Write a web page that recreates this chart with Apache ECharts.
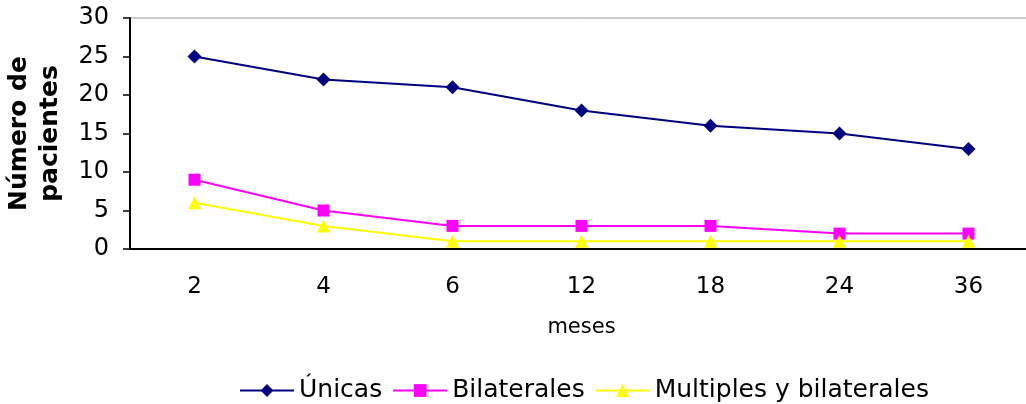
<!DOCTYPE html>
<html>
<head>
<meta charset="utf-8">
<script src="https://cdn.jsdelivr.net/npm/echarts@6/dist/echarts.min.js"></script>
<style>
	html, body { margin: 0; padding: 0; background: #fff; }
	#chart { width: 1026px; height: 404px; }
</style>
</head>
<body>
<div id="chart"></div>
<script type="text/javascript">
	// datos
	var meses = ['2', '4', '6', '12', '18', '24', '36'];
	var unicas = [25, 22, 21, 18, 16, 15, 13];
	var bilaterales = [9, 5, 3, 3, 3, 2, 2];
	var multiples = [6, 3, 1, 1, 1, 1, 1];
	var yTicks = [0, 5, 10, 15, 20, 25, 30];

	var fuente = 'DejaVu Sans';
	var myChart = echarts.init(document.getElementById('chart'));
	var option = {
		backgroundColor: '#fff',
		animation: false,
		grid: {
			left: 130,
			top: 18,
			width: 903,
			height: 231,
			outerBoundsMode: 'none',
			containLabel: false,
			show: true,
			borderColor: '#999',
			borderWidth: 1
		},
		legend: {
			left: 234,
			top: 373,
			itemWidth: 54,
			itemHeight: 16,
			itemGap: 10,
			textStyle: { fontFamily: fuente, fontSize: 25, color: '#000' },
			data: ['Únicas', 'Bilaterales', 'Multiples y bilaterales']
		},
		xAxis: {
			type: 'category',
			data: meses,
			boundaryGap: true,
			name: 'meses',
			nameLocation: 'middle',
			nameGap: 68,
			nameTextStyle: { fontFamily: fuente, fontSize: 21, color: '#000' },
			axisLine: { lineStyle: { color: '#000', width: 2 } },
			axisTick: { length: 7, lineStyle: { color: '#000', width: 1.5 } },
			axisLabel: { fontFamily: fuente, fontSize: 23, color: '#000', margin: 27 }
		},
		yAxis: {
			type: 'value',
			min: yTicks[0],
			max: yTicks[yTicks.length - 1],
			interval: 5,
			name: 'Número de\npacientes',
			nameLocation: 'middle',
			nameGap: 64,
			nameMoveOverlap: false,
			nameTextStyle: { fontFamily: fuente, fontSize: 25, fontWeight: 'bold', color: '#000', lineHeight: 31 },
			splitLine: { show: false },
			axisLine: { show: true, lineStyle: { color: '#000', width: 2 } },
			axisTick: { show: true, length: 7, lineStyle: { color: '#000', width: 1.5 } },
			axisLabel: { fontFamily: fuente, fontSize: 24, color: '#000', margin: 21 }
		},
		series: [
			{
				name: 'Únicas',
				type: 'line',
				data: unicas,
				symbol: 'diamond',
				symbolSize: 14,
				itemStyle: { color: '#000080' },
				lineStyle: { color: '#000080', width: 2 }
			},
			{
				name: 'Bilaterales',
				type: 'line',
				data: bilaterales,
				symbol: 'rect',
				symbolSize: 12,
				itemStyle: { color: '#ff00ff' },
				lineStyle: { color: '#ff00ff', width: 2 }
			},
			{
				name: 'Multiples y bilaterales',
				type: 'line',
				data: multiples,
				symbol: 'triangle',
				symbolSize: 13,
				itemStyle: { color: '#ffff00' },
				lineStyle: { color: '#ffff00', width: 2 }
			}
		]
	};
	myChart.setOption(option);
</script>
</body>
</html>
